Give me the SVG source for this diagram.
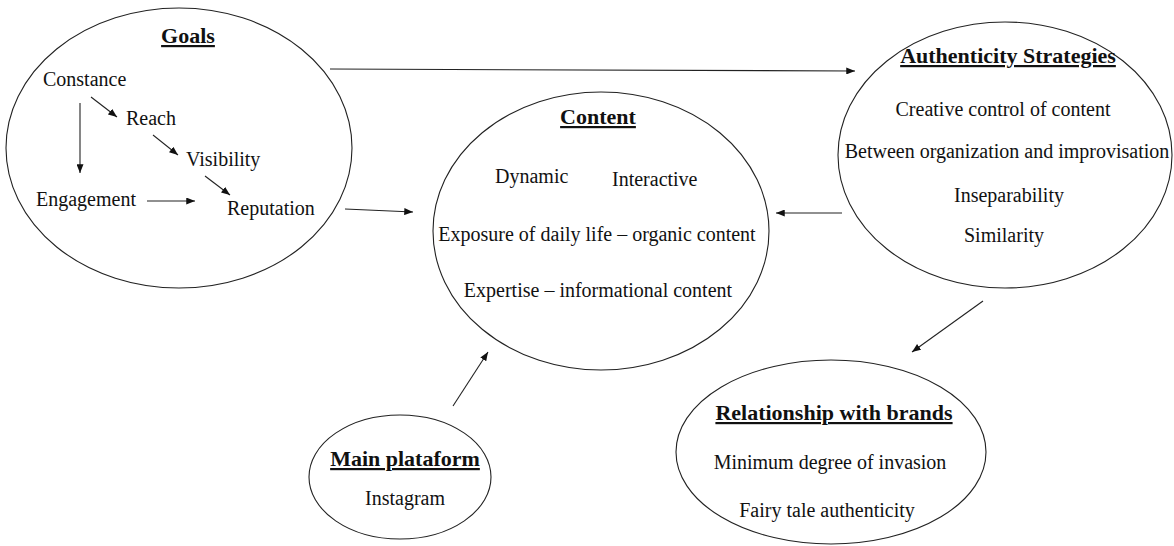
<svg xmlns="http://www.w3.org/2000/svg" width="1174" height="546" viewBox="0 0 1174 546">
<defs>
<marker id="ah" viewBox="0 0 10 8" refX="10" refY="4" markerWidth="9" markerHeight="7" markerUnits="userSpaceOnUse" orient="auto">
<path d="M0,0 L10,4 L0,8 Z" fill="#111"/>
</marker>
</defs>
<style>
.node ellipse{fill:#fff;stroke:#222;stroke-width:1.1}
text{font-family:"Liberation Serif","Times New Roman",serif;font-size:20px;fill:#111}
.t{font-weight:bold;font-size:22px;text-decoration:underline}
.c{text-anchor:middle}
.conn line{stroke:#222;stroke-width:1.1;marker-end:url(#ah)}
</style>
<rect width="1174" height="546" fill="#fff"/>
<g id="goals" class="node">
<ellipse cx="179" cy="148" rx="173" ry="140"/>
<text class="t c" x="188" y="43">Goals</text>
<text x="43" y="86">Constance</text>
<text x="126" y="125">Reach</text>
<text x="186" y="166">Visibility</text>
<text x="36" y="206">Engagement</text>
<text x="227" y="215">Reputation</text>
</g>
<g id="content" class="node">
<ellipse cx="601" cy="231" rx="168" ry="139"/>
<text class="t c" x="598" y="124">Content</text>
<text x="495" y="183">Dynamic</text>
<text x="612" y="186">Interactive</text>
<text class="c" x="597" y="241">Exposure of daily life – organic content</text>
<text class="c" x="598" y="297">Expertise – informational content</text>
</g>
<g id="authenticity" class="node">
<ellipse cx="1005" cy="155" rx="167" ry="133"/>
<text class="t c" x="1008" y="63">Authenticity Strategies</text>
<text class="c" x="1003" y="116">Creative control of content</text>
<text class="c" x="1007" y="158">Between organization and improvisation</text>
<text class="c" x="1009" y="202">Inseparability</text>
<text class="c" x="1004" y="242">Similarity</text>
</g>
<g id="brands" class="node">
<ellipse cx="831" cy="452" rx="155" ry="92"/>
<text class="t c" x="834" y="420">Relationship with brands</text>
<text class="c" x="830" y="469">Minimum degree of invasion</text>
<text class="c" x="827" y="517">Fairy tale authenticity</text>
</g>
<g id="platform" class="node">
<ellipse cx="400" cy="477" rx="91" ry="62"/>
<text class="t c" x="405" y="466">Main plataform</text>
<text class="c" x="405" y="505">Instagram</text>
</g>
<g id="connectors" class="conn">
<line x1="91" y1="97" x2="117" y2="117"/>
<line x1="153" y1="135" x2="178" y2="155"/>
<line x1="205" y1="176" x2="230" y2="195"/>
<line x1="80" y1="103" x2="80" y2="173"/>
<line x1="147" y1="201" x2="195" y2="201"/>
<line x1="330" y1="69" x2="855" y2="71"/>
<line x1="345" y1="209" x2="413" y2="212"/>
<line x1="842" y1="213" x2="776" y2="213"/>
<line x1="983" y1="301" x2="912" y2="352"/>
<line x1="453" y1="406" x2="488" y2="352"/>
</g>
</svg>
